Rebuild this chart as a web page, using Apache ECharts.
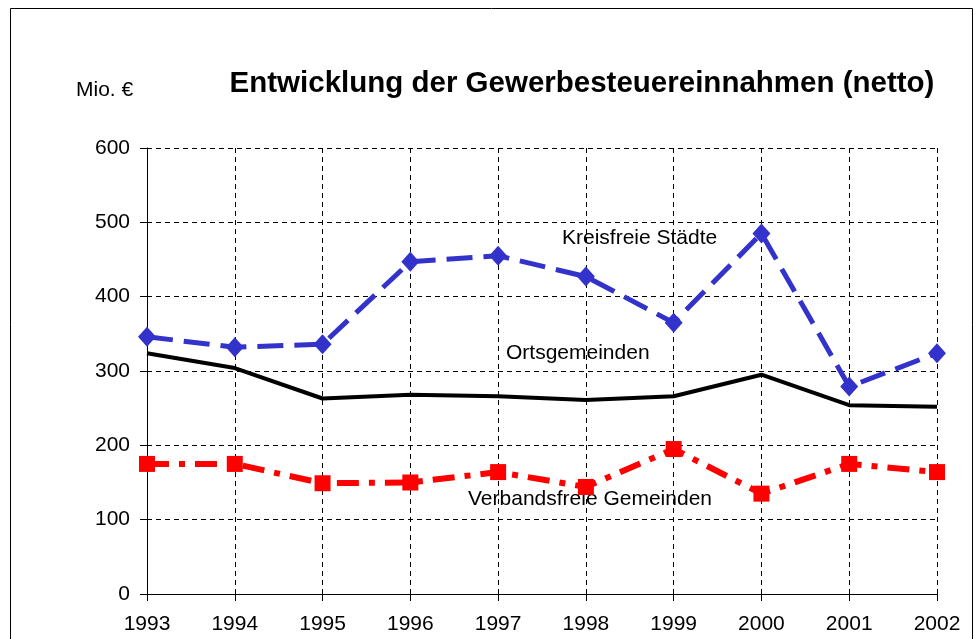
<!DOCTYPE html>
<html><head><meta charset="utf-8">
<script src="https://cdn.jsdelivr.net/npm/echarts@6/dist/echarts.min.js"></script>
<style>html,body{margin:0;padding:0;background:#fff}#c{width:977px;height:639px}</style>
</head><body><div id="c"></div>
<script>
var years = ['1993','1994','1995','1996','1997','1998','1999','2000','2001','2002'];
var kreisfreieStaedte = [346, 332, 336, 447, 455, 427, 365, 485, 279, 324];
var ortsgemeinden = [324, 304, 263, 268, 266, 261, 266, 295, 254, 252];
var verbandsfreieGemeinden = [175, 175, 149, 150, 164, 144, 195, 135, 175, 164];
var yTicks = [0, 100, 200, 300, 400, 500, 600];

var F = 'Arial, "Liberation Sans", sans-serif';
var chart = echarts.init(document.getElementById('c'), null, {renderer: 'canvas'});
function label(txt, x, y, size, weight, align) {
  return {type: 'text', x: x, y: y, silent: true,
    style: {text: txt, fontSize: size, fontFamily: F, fontWeight: weight || 'normal', fill: '#000',
            textAlign: align || 'left', textVerticalAlign: 'middle'}};
}
chart.setOption({
  animation: false,
  backgroundColor: '#fff',
  graphic: [
    {type: 'rect', shape: {x: 10.5, y: 8.5, width: 962, height: 700}, style: {fill: 'none', stroke: '#000', lineWidth: 1}, silent: true},
    label('Entwicklung der Gewerbesteuereinnahmen (netto)', 582, 84, 29.5, 'bold', 'center'),
    label('Mio. €', 76, 90, 21),
    label('Kreisfreie Städte', 562, 238, 21),
    label('Ortsgemeinden', 506, 353, 21),
    label('Verbandsfreie Gemeinden', 468, 499, 21)
  ],
  grid: {left: 147, right: 40, top: 148, bottom: 45, containLabel: false},
  xAxis: {
    type: 'category', data: years, boundaryGap: false,
    axisLine: {lineStyle: {color: '#000', width: 1}},
    axisTick: {show: true, length: 7, alignWithLabel: true, lineStyle: {color: '#000'}},
    axisLabel: {color: '#000', fontSize: 21, fontFamily: F, margin: 20},
    splitLine: {show: true, lineStyle: {color: '#000', type: [5, 4], width: 1}}
  },
  yAxis: {
    type: 'value', min: yTicks[0], max: yTicks[yTicks.length - 1], interval: 100,
    axisLine: {show: true, lineStyle: {color: '#000', width: 1}},
    axisTick: {show: true, length: 7, lineStyle: {color: '#000'}},
    axisLabel: {color: '#000', fontSize: 21, fontFamily: F, margin: 17},
    splitLine: {show: true, lineStyle: {color: '#000', type: [5, 4], width: 1}}
  },
  series: [
    {
      name: 'Ortsgemeinden', type: 'line', data: ortsgemeinden,
      symbol: 'none', lineStyle: {color: '#000', width: 4}, z: 3
    },
    {
      name: 'Verbandsfreie Gemeinden', type: 'line', data: verbandsfreieGemeinden,
      symbol: 'rect', symbolSize: 16, itemStyle: {color: '#ff0000'},
      lineStyle: {color: '#ff0000', width: 6, type: [22, 10, 6, 10]}, z: 4
    },
    {
      name: 'Kreisfreie Städte', type: 'line', data: kreisfreieStaedte,
      symbol: 'diamond', symbolSize: [18, 20], itemStyle: {color: '#3333cc'},
      lineStyle: {color: '#3333cc', width: 5, type: [26, 11]}, z: 5
    }
  ]
});
</script></body></html>
